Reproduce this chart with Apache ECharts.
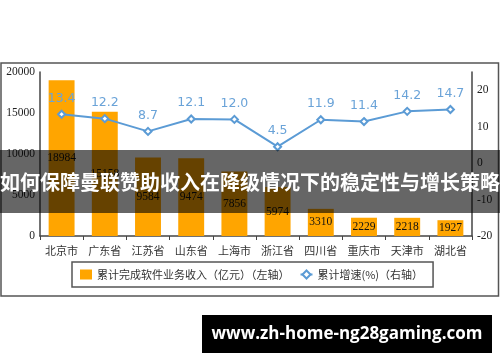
<!DOCTYPE html>
<html>
<head>
<meta charset="utf-8">
<script src="https://cdn.jsdelivr.net/npm/echarts@6/dist/echarts.min.js"></script>
<style>html,body{margin:0;padding:0;background:#fff;}#c{width:500px;height:362px;}</style>
</head>
<body>
<div id="c"></div>
<script>
const categories = ['北京市','广东省','江苏省','山东省','上海市','浙江省','四川省','重庆市','天津市','湖北省'];
const revenue = [18984,15158,9584,9474,7856,5974,3310,2229,2218,1927];
const growth = [13.4,12.2,8.7,12.1,12.0,4.5,11.9,11.4,14.2,14.7];
const leftTicks = [0,5000,10000,15000,20000];
const rightTicks = [-20,-10,0,10,20];
const seriesNames = ['累计完成软件业务收入（亿元）（左轴）','累计增速(%)（右轴）'];
const bannerText = '如何保障曼联赞助收入在降级情况下的稳定性与增长策略';
const watermark = 'www.zh-home-ng28gaming.com';

const serif = '"Liberation Serif","DejaVu Serif",serif';
const cjk = '"Noto Sans CJK SC","Noto Sans",sans-serif';

const chart = echarts.init(document.getElementById('c'), null, {renderer:'canvas'});
chart.setOption({
  animation: false,
  backgroundColor: '#fff',
  grid: {left: 40, right: 28, top: 72, bottom: 126},
  legend: {
    left: 72, top: 262, width: 460, orient: 'horizontal',
    padding: [7, 10, 7, 8],
    borderColor: '#555', borderWidth: 1.5,
    itemGap: 10, itemWidth: 12, itemHeight: 10,
    textStyle: {fontFamily: cjk, fontSize: 11, color: '#333'},
    data: [{name: seriesNames[0], icon: 'rect'}, {name: seriesNames[1]}]
  },
  xAxis: {
    type: 'category', data: categories, boundaryGap: true,
    axisLine: {lineStyle: {color: '#444', width: 1.5}},
    axisTick: {show: true, alignWithLabel: false, length: 4, lineStyle: {color: '#444'}},
    axisLabel: {fontFamily: cjk, fontSize: 11, color: '#333', margin: 9}
  },
  yAxis: [{
    type: 'value', min: leftTicks[0], max: leftTicks[leftTicks.length-1], interval: 5000,
    axisLine: {show: true, lineStyle: {color: '#444', width: 1.5}},
    axisTick: {show: false}, splitLine: {show: false},
    axisLabel: {fontFamily: serif, fontSize: 11.5, color: '#222', margin: 5, formatter: v => String(v)}
  }, {
    type: 'value', position: 'right', min: rightTicks[0], max: 25, interval: 10,
    axisLine: {show: true, lineStyle: {color: '#444', width: 1.5}},
    axisTick: {show: false}, splitLine: {show: false},
    axisLabel: {fontFamily: serif, fontSize: 11.5, color: '#222', margin: 5, showMaxLabel: false, formatter: v => String(v)}
  }],
  series: [{
    name: seriesNames[0], type: 'bar', data: revenue, barWidth: '60%',
    itemStyle: {color: '#FFA500'},
    label: {show: true, position: 'inside', color: '#111', fontFamily: serif, fontSize: 11.5}
  }, {
    name: seriesNames[1], type: 'line', yAxisIndex: 1, data: growth,
    symbol: 'emptyDiamond', symbolSize: 7,
    lineStyle: {color: '#5B9BD5', width: 2},
    itemStyle: {color: '#5B9BD5', borderWidth: 1.5},
    label: {show: true, position: 'top', distance: 5, color: '#6AA3D8', fontFamily: '"DejaVu Sans",sans-serif', fontSize: 12.5,
      formatter: p => p.value.toFixed(1)}
  }],
  graphic: [
    {type: 'rect', shape: {x: 1, y: 63, width: 497.5, height: 233}, style: {fill: 'none', stroke: '#555', lineWidth: 1.5}, z: 50},
    {type: 'rect', shape: {x: 0, y: 150, width: 500, height: 63}, style: {fill: 'rgba(0,0,0,0.6)'}, z: 100},
    {type: 'text', x: 250, y: 182, style: {text: bannerText, fill: '#fff', font: 'bold 20px "Noto Sans CJK SC",sans-serif', align: 'center', verticalAlign: 'middle'}, z: 101},
    {type: 'rect', shape: {x: 202, y: 315, width: 290, height: 38}, style: {fill: '#000'}, z: 100},
    {type: 'text', x: 347, y: 334, style: {text: watermark, fill: '#fff', font: 'bold 17px "Open Sans",sans-serif', align: 'center', verticalAlign: 'middle'}, z: 101}
  ]
});
</script>
</body>
</html>
